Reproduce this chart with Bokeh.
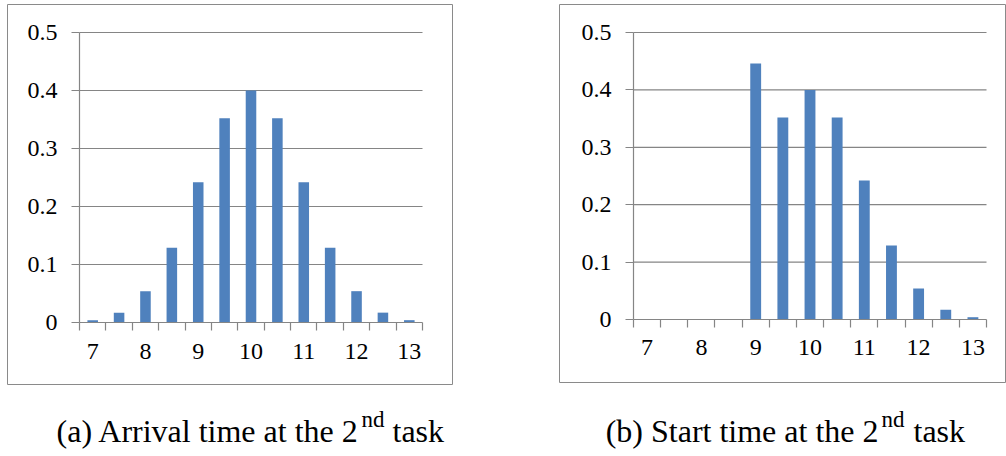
from bokeh.plotting import figure
from bokeh.layouts import row
from bokeh.models import Range1d, LinearAxis, FixedTicker, Label
from bokeh.embed import file_html
from bokeh.resources import INLINE

# Time slots (hours) and probability of each slot
slots = [7.0, 7.5, 8.0, 8.5, 9.0, 9.5, 10.0, 10.5, 11.0, 11.5, 12.0, 12.5, 13.0]
arrival_prob = [0.004, 0.017, 0.054, 0.129, 0.242, 0.352, 0.400,
                0.352, 0.242, 0.129, 0.054, 0.017, 0.004]
start_prob = [0.0, 0.0, 0.0, 0.0, 0.446, 0.352, 0.400,
              0.352, 0.242, 0.129, 0.054, 0.017, 0.004]
x_tick_labels = [7, 8, 9, 10, 11, 12, 13]
y_ticks = [0, 0.1, 0.2, 0.3, 0.4, 0.5]

FONT = "Liberation Serif, DejaVu Serif, serif"
BAR = "#4F81BD"
AXIS = "#858585"
BOX = "#8A8A8A"
W, H = 503, 456


def panel(values, head, tail, g):
    half = (slots[1] - slots[0]) / 2
    lo, hi = slots[0] - half, slots[-1] + half
    sx = (g["plot_right"] - g["plot_left"]) / (hi - lo)
    sy = (g["zero"] - g["top_tick"]) / (y_ticks[-1] - y_ticks[0])

    def px_x(px):
        return lo + (px - g["plot_left"]) / sx

    def px_y(py):
        return (g["zero"] - py) / sy

    p = figure(width=W, height=H, min_border=0,
               x_range=Range1d(px_x(0), px_x(W)), y_range=Range1d(px_y(H), px_y(0)),
               x_axis_type=None, y_axis_type=None,
               output_backend="svg", toolbar_location=None)
    p.outline_line_color = None
    p.background_fill_color = "white"
    p.border_fill_color = "white"

    # chart border
    p.quad(left=[px_x(g["left"])], right=[px_x(g["right"])],
           top=[px_y(g["top"])], bottom=[px_y(g["bottom"])],
           fill_color=None, line_color=BOX, line_width=1)

    # horizontal gridlines across the category area
    grid = y_ticks[1:]
    p.segment(x0=[lo] * len(grid), x1=[hi] * len(grid), y0=grid, y1=grid,
              line_color=AXIS, line_width=1.2)

    p.vbar(x=slots, top=values, width=half * 0.8, fill_color=BAR, line_color=None)

    yax = LinearAxis(fixed_location=lo, bounds=(y_ticks[0], y_ticks[-1]),
                     ticker=FixedTicker(ticks=y_ticks, minor_ticks=[]))
    yax.axis_line_color = AXIS
    yax.axis_line_width = 1.2
    yax.major_tick_line_color = AXIS
    yax.major_tick_line_width = 1.2
    yax.major_tick_out = 8
    yax.major_tick_in = 0
    yax.minor_tick_out = 0
    yax.major_label_standoff = 14
    yax.major_label_text_font = FONT
    yax.major_label_text_font_size = "24px"
    yax.major_label_text_color = "black"
    p.add_layout(yax, "left")

    # category separators along the baseline
    seps = [s - half for s in slots] + [slots[-1] + half]
    xtk = LinearAxis(fixed_location=0, bounds=(lo, hi),
                     ticker=FixedTicker(ticks=seps, minor_ticks=[]),
                     major_label_overrides={s: "" for s in seps})
    xtk.axis_line_color = AXIS
    xtk.axis_line_width = 1.2
    xtk.major_tick_line_color = AXIS
    xtk.major_tick_line_width = 1.2
    xtk.major_tick_out = 8
    xtk.major_tick_in = 0
    xtk.minor_tick_out = 0
    p.add_layout(xtk, "below")

    xlab = LinearAxis(fixed_location=0, ticker=FixedTicker(ticks=x_tick_labels, minor_ticks=[]))
    xlab.axis_line_color = None
    xlab.major_tick_line_color = None
    xlab.major_tick_out = 0
    xlab.minor_tick_out = 0
    xlab.major_label_standoff = g["label_gap"]
    xlab.major_label_text_font = FONT
    xlab.major_label_text_font_size = "24px"
    xlab.major_label_text_color = "black"
    p.add_layout(xlab, "below")

    def lab(text, cx, cy, size, align):
        p.add_layout(Label(x=px_x(cx), y=px_y(cy), text=text, text_font=FONT,
                           text_font_size=size, text_color="black",
                           text_align=align, text_baseline="alphabetic"))

    lab(head, g["head_end"], g["base"], "32px", "right")
    lab("nd", g["sup_x"], g["sup_base"], "23px", "left")
    lab(tail, g["tail_x"], g["base"], "32px", "left")
    return p


geom_a = dict(left=7, right=452, top=4, bottom=384,
              plot_left=79, plot_right=422, top_tick=32, zero=322, label_gap=21,
              head_end=359, sup_x=361, sup_base=419, tail_x=392, base=430)
geom_b = dict(left=56, right=502, top=4, bottom=382,
              plot_left=130, plot_right=483, top_tick=32, zero=319, label_gap=20,
              head_end=375, sup_x=378, sup_base=419, tail_x=410, base=430)

pa = panel(arrival_prob, "(a) Arrival time at the 2", "task", geom_a)
pb = panel(start_prob, "(b) Start time at the 2", "task", geom_b)

layout = row(pa, pb, spacing=0)
open("out.html", "w").write(file_html(layout, INLINE))
